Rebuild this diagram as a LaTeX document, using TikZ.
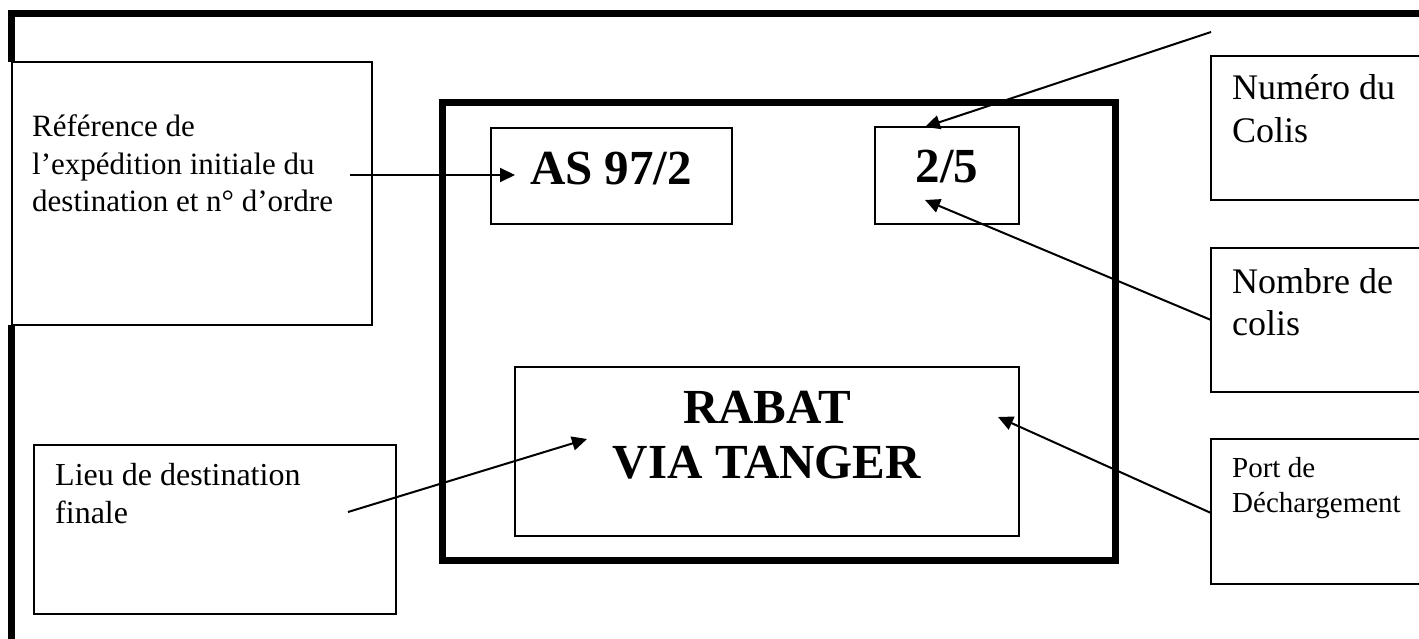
\documentclass[tikz,border=0pt]{standalone}
\usepackage{fontspec}
\setmainfont{Liberation Serif}
\usetikzlibrary{arrows.meta}
\begin{document}
\begin{tikzpicture}[x=1pt,y=-1pt,
  frame/.style={draw, line width=7pt, inner sep=0pt, outer sep=0pt},
  box/.style={draw, line width=1.8pt, fill=white, inner sep=0pt, outer sep=0pt},
  conn/.style={line width=2pt, -{Triangle[length=15pt,width=14pt]}},
  lbl/.style={anchor=base west, inner sep=0pt},
  big/.style={anchor=base, inner sep=0pt, font=\fontsize{49}{55}\selectfont\bfseries},
]
\useasboundingbox (0,0) rectangle (1419,639);
% outer frame (cropped at right and bottom)
\draw[line width=7pt] (11,680) -- (11,13.5) -- (1460,13.5);
% left boxes
\node[box, minimum width=360pt, minimum height=263pt] (refbox) at (192,193.5) {};
\fill[white] (6,62) rectangle (11,325);
\node[box, minimum width=362pt, minimum height=169pt] (lieubox) at (215,529.5) {};
% inner frame
\node[frame, minimum width=673pt, minimum height=457pt] (inner) at (778.5,331.5) {};
\node[box, minimum width=241pt, minimum height=96pt] (asbox) at (611.5,176) {};
\node[box, minimum width=144pt, minimum height=97pt] (nbbox) at (947,175.5) {};
\node[box, minimum width=504pt, minimum height=169pt] (destbox) at (767,451.5) {};
% right boxes
\node[box, minimum width=214pt, minimum height=144pt] (numbox) at (1318,128) {};
\node[box, minimum width=214pt, minimum height=144pt] (nombox) at (1318,320) {};
\node[box, minimum width=214pt, minimum height=145pt] (portbox) at (1318,511.5) {};
% texts
\begin{scope}[font=\fontsize{31}{37}\selectfont]
\node[lbl] (ref1) at (32,137) {Référence de};
\node[lbl] (ref2) at (32,175) {l’expédition initiale du};
\node[lbl] (ref3) at (32,212) {destination et n° d’ordre};
\end{scope}
\begin{scope}[font=\fontsize{32}{38}\selectfont]
\node[lbl] (lieu1) at (55,485) {Lieu de destination};
\node[lbl] (lieu2) at (55,523) {finale};
\end{scope}
\node[big] (astxt) at (611,185) {AS 97/2};
\node[big] (nbtxt) at (947,183) {2/5};
\node[big] (rabat) at (767,423) {RABAT};
\node[big] (via) at (767,478) {VIA TANGER};
\begin{scope}[font=\fontsize{36}{42}\selectfont]
\node[lbl] (num1) at (1232,100) {Numéro du};
\node[lbl] (num2) at (1232,143) {Colis};
\node[lbl] (nom1) at (1232,293) {Nombre de};
\node[lbl] (nom2) at (1232,335) {colis};
\end{scope}
\begin{scope}[font=\fontsize{29}{35}\selectfont]
\node[lbl] (port1) at (1232,477) {Port de};
\node[lbl] (port2) at (1232,512) {Déchargement};
\end{scope}
% connector ends
\coordinate (refS) at (350,175);
\coordinate (asE) at (515,175);
\coordinate (numS) at (1211,32);
\coordinate (nbTop) at (925,127);
\coordinate (nomS) at (1211,320);
\coordinate (nbIn) at (925,200);
\coordinate (portS) at (1211,513);
\coordinate (destR) at (998,417);
\coordinate (lieuS) at (348,512);
\coordinate (destL) at (587,439);
% connectors
\draw[conn] (refS) -- (asE);
\draw[conn] (numS) -- (nbTop);
\draw[conn] (nomS) -- (nbIn);
\draw[conn] (portS) -- (destR);
\draw[conn] (lieuS) -- (destL);
\end{tikzpicture}
\end{document}
